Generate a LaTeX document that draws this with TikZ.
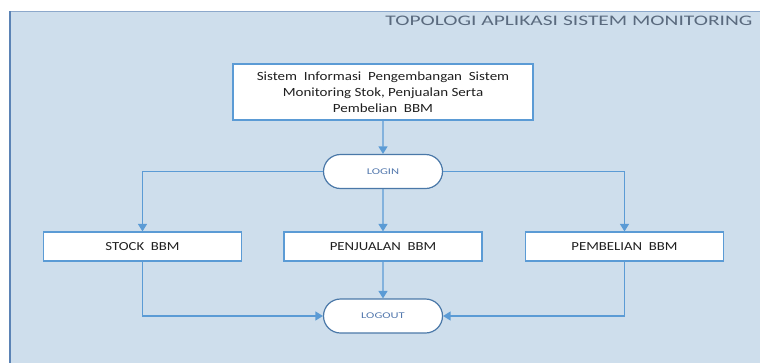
\documentclass[tikz,border=0pt]{standalone}
\usepackage{fontspec}
\setmainfont{Carlito}
\newfontfamily\bodyfont[FakeStretch=1.2]{Carlito}
\newfontfamily\widefont[FakeStretch=1.42]{Carlito}
\newfontfamily\headfont[FakeStretch=1.47]{Carlito}
\usetikzlibrary{arrows.meta,shapes.misc}
\definecolor{panel}{HTML}{CEDEEC}
\definecolor{frameblue}{HTML}{5B83B5}
\definecolor{lineblue}{HTML}{5B9BD5}
\definecolor{rimblue}{HTML}{4A78A8}
\definecolor{titlegrey}{HTML}{5A6A7E}
\definecolor{capblue}{HTML}{5479AE}
\definecolor{boxtext}{HTML}{1F1F1F}
\tikzset{
  box/.style={draw=lineblue, line width=1.2pt, fill=white, text=boxtext,
    inner sep=0pt, font=\bodyfont\fontsize{12.3}{13}\selectfont},
  terminal/.style={draw=rimblue, line width=1.2pt, fill=white, rounded rectangle,
    minimum width=119pt, minimum height=34pt, inner sep=0pt, text=capblue,
    font=\widefont\fontsize{8.8}{10}\selectfont},
  flow/.style={draw=lineblue, line width=1.3pt, -{Triangle[length=7.5pt,width=9pt]}}
}
\begin{document}
\begin{tikzpicture}[x=1pt,y=-1pt]
\useasboundingbox (0,0) rectangle (760,362);
\fill[white] (0,0) rectangle (760,362);
% background panel with its frame
\fill[panel] (9,11) rectangle (762,364);
\draw[frameblue!70, line width=1pt] (9,11.5) -- (762,11.5);
\draw[frameblue, line width=2pt] (10,11) -- (10,364);
\node[anchor=base east, text=titlegrey, font=\headfont\fontsize{14.6}{16}\selectfont] (title) at (756,25)
  {TOPOLOGI APLIKASI SISTEM MONITORING};

% nodes
\node[box, minimum width=300pt, minimum height=56pt, align=center,
  font=\bodyfont\fontsize{12.5}{16}\selectfont] (sim) at (383,92)
  {Sistem\ \ Informasi\ \ Pengembangan\ \ Sistem\\Monitoring Stok, Penjualan Serta\\Pembelian\ \ BBM};
\node[terminal] (login) at (383,171.5) {LOGIN};
\node[box, minimum width=198pt, minimum height=29pt] (stock) at (142.5,246.5) {STOCK\ \ BBM};
\node[box, minimum width=198pt, minimum height=29pt] (jual) at (383,246.5) {PENJUALAN\ \ BBM};
\node[box, minimum width=198pt, minimum height=29pt] (beli) at (624.5,246.5) {PEMBELIAN\ \ BBM};
\node[terminal] (logout) at (383,316) {LOGOUT};

% connectors
\draw[flow] (sim) -- (login);
\draw[flow] (login.west) -| (stock.north);
\draw[flow] (login) -- (jual);
\draw[flow] (login.east) -| (beli.north);
\draw[flow] (stock.south) |- (logout.west);
\draw[flow] (jual) -- (logout);
\draw[flow] (beli.south) |- (logout.east);
\end{tikzpicture}
\end{document}
